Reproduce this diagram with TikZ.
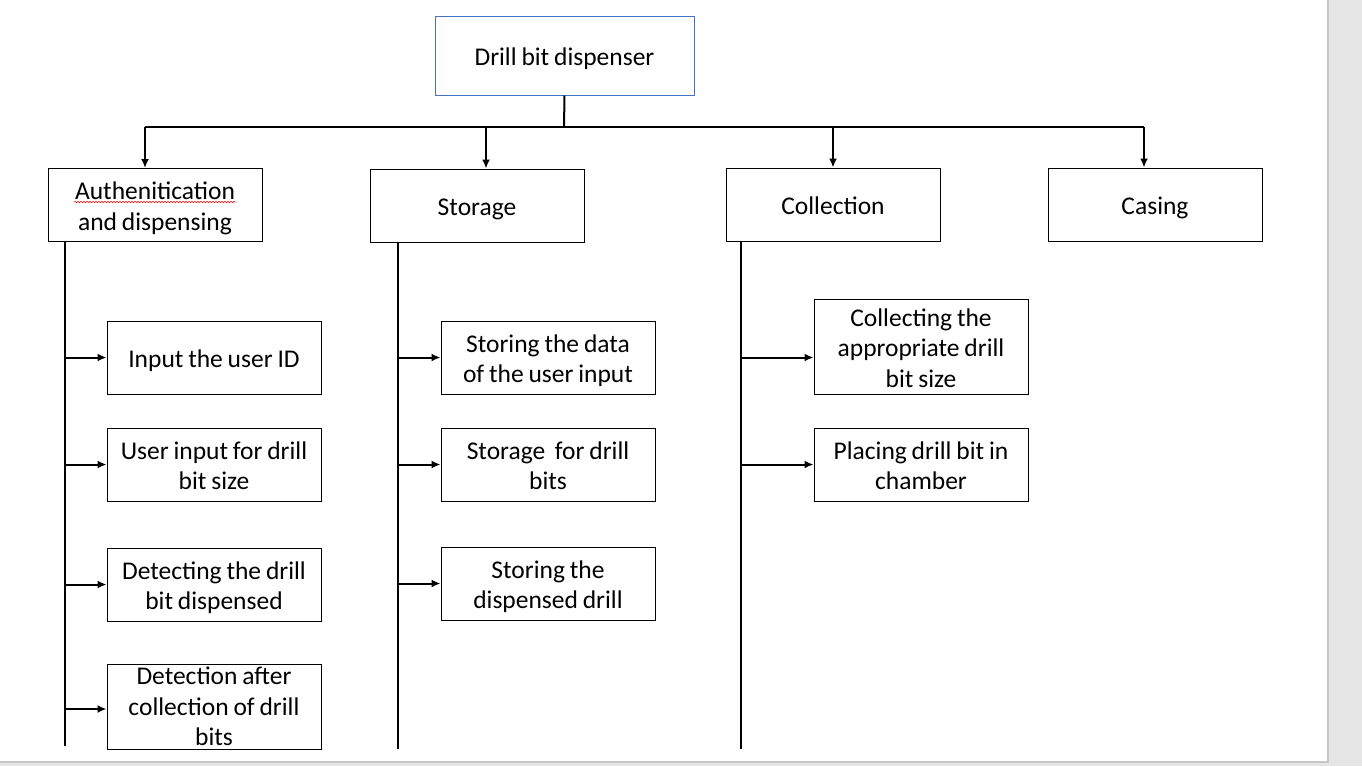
\documentclass[tikz,border=0pt]{standalone}
\usepackage{fontspec}
\setmainfont{Carlito}
\usetikzlibrary{arrows.meta,decorations.pathmorphing}
\definecolor{wordblue}{RGB}{68,114,196}
\definecolor{pagegray}{RGB}{230,230,230}
\definecolor{edgegray}{RGB}{198,198,198}
\tikzset{
  boxbase/.style={draw=black, line width=1pt, fill=white, minimum width=214pt,
    minimum height=73pt, text width=210pt, align=center, inner sep=0pt,
    font=\fontsize{25.5}{30.5}\selectfont},
  block/.style={boxbase,
    execute at begin node={\spaceskip=0.19em\relax\rule{0pt}{25pt}},
    execute at end node={\rule[-5pt]{0pt}{5pt}}},
  tallblock/.style={boxbase, minimum height=85pt,
    execute at begin node={\spaceskip=0.19em\relax}},
  link/.style={line width=2pt, -{Latex[length=9pt,width=8pt]}},
  spine/.style={line width=2pt}
}

\begin{document}
\begin{tikzpicture}[x=1pt,y=-1pt]
  % page
  \useasboundingbox (0,0) rectangle (1362,766);
  \fill[pagegray] (0,0) rectangle (1362,766);
  \fill[white] (0,0) rectangle (1328,762);
  \draw[edgegray, line width=1.5pt] (1328,0) -- (1328,762) -- (0,762);

  % top box
  \node[block, draw=wordblue, minimum width=259pt, minimum height=79pt] (top) at (564.5,55.5) {Drill bit dispenser};

  % second level
  \node[block] (auth) at (155,205) {Authenitication\\and dispensing};
  \node[block] (stor) at (477,205.5) {Storage};
  \node[block] (coll) at (833,204.5) {Collection};
  \node[block] (cas) at (1155,204.5) {Casing};
  \draw[red, line width=0.5pt, decorate, decoration={snake, amplitude=0.8pt, segment length=3pt}] (74,202) -- (236,202);

  % bus
  \coordinate (hub) at (564,127);
  \coordinate (b1) at (145,127);
  \coordinate (b2) at (486,127);
  \coordinate (b3) at (833,127);
  \coordinate (b4) at (1144,127);
  \draw[spine] (top.south) -- (hub);
  \draw[spine] (b1) -- (b4);
  \draw[link] (b1) -- (b1 |- auth.north);
  \draw[link] (b2) -- (b2 |- stor.north);
  \draw[link] (b3) -- (b3 |- coll.north);
  \draw[link] (b4) -- (b4 |- cas.north);

  % third level
  \node[block] (a1) at (214,357.5) {Input the user ID};
  \node[block] (a2) at (214,464.5) {User input for drill\\bit size};
  \node[block] (a3) at (214,584.5) {Detecting the drill\\bit dispensed};
  \node[tallblock] (a4) at (214,706.5) {Detection after\\collection of drill\\bits};

  \node[block] (s1) at (548,357.5) {Storing the data\\of the user input};
  \node[block] (s2) at (548,464.5) {Storage \ for drill\\bits};
  \node[block] (s3) at (548,583.5) {Storing the\\dispensed drill};

  \node[block, minimum height=95pt] (c1) at (921,346.5) {Collecting the\\appropriate drill\\bit size};
  \node[block] (c2) at (921,464.5) {Placing drill bit in\\chamber};

  % spines
  \coordinate (sp1) at (65,746);
  \coordinate (sp2) at (398,749);
  \coordinate (sp3) at (741,749);
  \draw[spine] (sp1 |- auth.south) -- (sp1);
  \draw[spine] (sp2 |- stor.south) -- (sp2);
  \draw[spine] (sp3 |- coll.south) -- (sp3);

  \draw[link] (sp1 |- a1.west) -- (a1.west);
  \draw[link] (sp1 |- a2.west) -- (a2.west);
  \draw[link] (sp1 |- a3.west) -- (a3.west);
  \draw[link] (sp1 |- 0,709) -- (a4.west |- 0,709);

  \draw[link] (sp2 |- s1.west) -- (s1.west);
  \draw[link] (sp2 |- s2.west) -- (s2.west);
  \draw[link] (sp2 |- s3.west) -- (s3.west);

  \draw[link] (sp3 |- a1.west) -- (c1.west |- a1.west);
  \draw[link] (sp3 |- c2.west) -- (c2.west);
\end{tikzpicture}
\end{document}
